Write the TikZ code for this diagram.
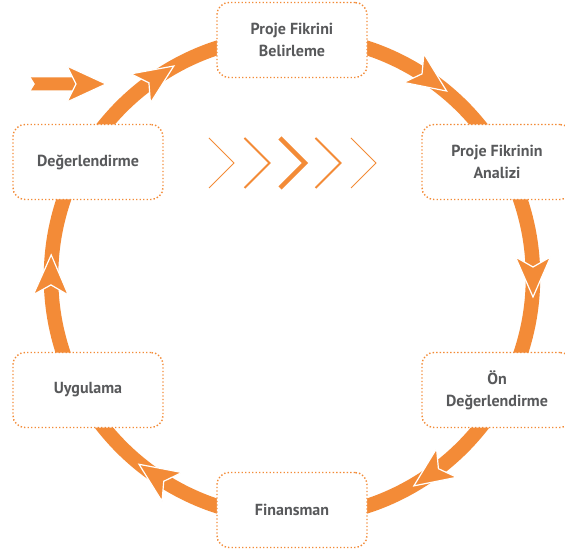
\documentclass[tikz,border=0pt]{standalone}
\usepackage{fontspec}
\setmainfont{PT Sans}
\definecolor{ring}{RGB}{243,139,55}
\definecolor{label}{RGB}{88,89,91}
\begin{document}
\begin{tikzpicture}[x=1pt,y=1pt,
  stage/.style={draw=ring, line width=1.4pt, dash pattern=on 1.4pt off 2.1pt,
    fill=white, rounded corners=12pt, minimum width=150pt, minimum height=75pt,
    align=center, font=\bfseries\fontsize{16}{22}\selectfont, text=label, inner sep=2pt},
  headshape/.style={fill=ring, draw=white, line width=1.2pt, line join=miter},
  chev/.style={draw=ring, line join=miter, line cap=butt}
]
\useasboundingbox (-292,-277) rectangle (273,277);
\fill[white] (-292,-277) rectangle (273,277);

% the cycle ring
\draw[ring, line width=14.5pt] (0,0) circle[radius=241];

% arrowheads along the ring (clockwise)
\foreach \a in {124,55,0,-55,-124.5,179.5}{
  \begin{scope}[shift={(\a:241)}, rotate={\a-90}]
    \draw[headshape] (20,0) -- (-20,17.5) -- (-10,0) -- (-20,-17.5) -- cycle;
  \end{scope}
}

% entry arrow
\coordinate (entry) at (-261,193);
\coordinate (entrytip) at (-186,193);
\fill[ring] ([yshift=6.5pt]entry) -- (-216,199.5) -- (-216,186.5) -- ([yshift=-6.5pt]entry) -- ([xshift=4pt]entry) -- cycle;
\draw[headshape] (entrytip) -- (-225,211) -- (-216,193) -- (-225,175) -- cycle;

% chevrons
\foreach \i/\w in {0/1,1/2,2/4.5,3/2,4/1}{
  \draw[chev, line width=\w pt] ({-83+35.5*\i},139) -- ({-58+35.5*\i},114) -- ({-83+35.5*\i},89);
}

% stages
\node[stage] (s1) at (0,237) {Proje Fikrini\\Belirleme};
\node[stage] (s2) at (205,115) {Proje Fikrinin\\Analizi};
\node[stage] (s3) at (205,-113) {Ön\\Değerlendirme};
\node[stage] (s4) at (0,-233) {Finansman};
\node[stage] (s5) at (-204,-113) {Uygulama};
\node[stage] (s6) at (-204,115) {Değerlendirme};
\end{tikzpicture}
\end{document}
